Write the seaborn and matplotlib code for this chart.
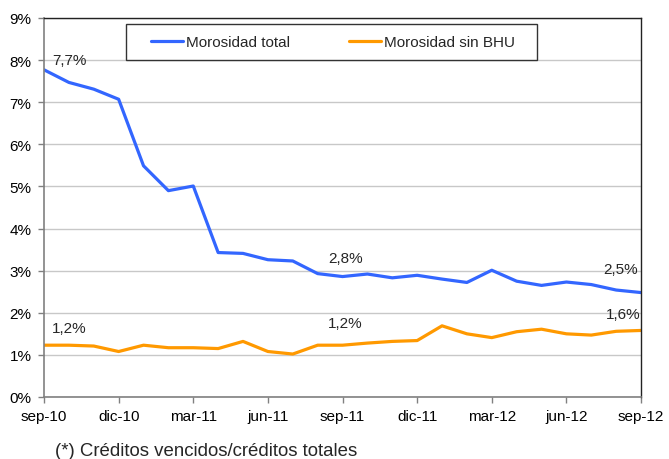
import matplotlib
matplotlib.use("Agg")
import matplotlib.pyplot as plt
from matplotlib.patches import Rectangle
import seaborn as sns
import pandas as pd
import numpy as np

months = ["sep-10","oct-10","nov-10","dic-10","ene-11","feb-11","mar-11","abr-11","may-11",
          "jun-11","jul-11","ago-11","sep-11","oct-11","nov-11","dic-11","ene-12","feb-12",
          "mar-12","abr-12","may-12","jun-12","jul-12","ago-12","sep-12"]
morosidad_total = [7.77, 7.47, 7.31, 7.07, 5.49, 4.90, 5.01, 3.43, 3.41, 3.26, 3.23, 2.93, 2.86,
                   2.92, 2.83, 2.89, 2.80, 2.72, 3.01, 2.75, 2.65, 2.73, 2.67, 2.54, 2.48]
morosidad_sin_bhu = [1.23, 1.23, 1.21, 1.08, 1.23, 1.17, 1.17, 1.15, 1.32, 1.08, 1.02, 1.23, 1.23,
                     1.28, 1.32, 1.34, 1.69, 1.50, 1.41, 1.55, 1.61, 1.50, 1.47, 1.56, 1.58]
series_names = ["Morosidad total", "Morosidad sin BHU"]
tick_labels = ["sep-10","dic-10","mar-11","jun-11","sep-11","dic-11","mar-12","jun-12","sep-12"]
annotations = [(0, 0, "7,7%"), (1, 0, "1,2%"), (0, 12, "2,8%"), (1, 12, "1,2%"),
               (0, 24, "2,5%"), (1, 24, "1,6%")]
footnote = "(*) Créditos vencidos/créditos totales"

sns.set_theme(style="white")
plt.rcParams['font.family'] = ['Liberation Sans', 'DejaVu Sans']

idx = np.arange(len(months))
df = pd.DataFrame({
    "x": np.concatenate([idx, idx]),
    "valor": morosidad_total + morosidad_sin_bhu,
    "serie": [series_names[0]] * len(months) + [series_names[1]] * len(months),
})

fig = plt.figure(figsize=(6.69, 4.60), dpi=100)
ax = fig.add_axes([0.0658, 0.1348, 0.8924, 0.8239])
sns.lineplot(data=df, x="x", y="valor", hue="serie", palette=["#3366FF", "#FF9900"],
             linewidth=2.3, ax=ax, legend=True)

ax.set_xlim(0, len(months) - 1)
ax.set_ylim(0, 9)
ax.set_yticks(range(0, 10))
ax.set_yticklabels([f"{i}%" for i in range(0, 10)], fontsize=11)
ax.set_xticks(idx[::3])
ax.set_xticklabels(tick_labels, fontsize=11)
ax.set_xlabel("")
ax.set_ylabel("")
ax.grid(axis="y", color="#C8C8C8", linewidth=1)
ax.set_axisbelow(True)
for s in ["left", "bottom"]:
    ax.spines[s].set_color("#808080")
    ax.spines[s].set_linewidth(1.2)
for s in ["top", "right"]:
    ax.spines[s].set_color("#222222")
    ax.spines[s].set_linewidth(1.0)
ax.tick_params(axis="both", direction="out", length=4, width=1, color="#808080",
               labelcolor="black", pad=5, bottom=True, left=True)

series_vals = [morosidad_total, morosidad_sin_bhu]
offsets = {(0, 0): (18, 2), (1, 0): (18, 7), (0, 12): (2, 8), (1, 12): (2, 11),
           (0, 24): (-15, 12), (1, 24): (-13, 7)}
for si, i, txt in annotations:
    y = series_vals[si][i]
    ax.annotate(txt, (i, y), xytext=offsets[(si, i)], textcoords="offset points",
                ha="center", va="bottom", fontsize=11)

handles, labels = ax.get_legend_handles_labels()
leg = ax.legend(handles, labels, ncol=2, loc="center",
                bbox_to_anchor=(0.484, 0.9365), fontsize=11,
                frameon=False, handlelength=2.1, handletextpad=0.15,
                columnspacing=3.9, borderaxespad=0)
ax.add_patch(Rectangle((0.137, 0.889), 0.689, 0.095, transform=ax.transAxes,
                       facecolor="white", edgecolor="#333333", linewidth=1.0, zorder=4))
leg.set_zorder(5)

fig.text(55 / 669, 1 - 452 / 460, footnote, fontsize=13.4, ha="left", va="center")

fig.savefig("out.png", dpi=100)
